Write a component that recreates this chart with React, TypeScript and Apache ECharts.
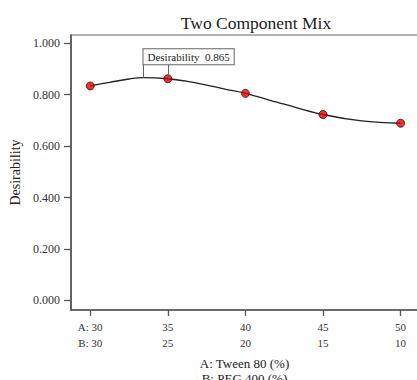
import React, { useEffect, useRef } from "react";
import * as echarts from "echarts";

const tweenValues = [30, 35, 40, 45, 50];
const pegValues = [30, 25, 20, 15, 10];
const desirabilityPoints = [0.834, 0.862, 0.805, 0.723, 0.689];
const curveX = [30, 31.25, 32.5, 33.4, 35, 36.25, 37.5, 38.75, 40, 42.5, 45, 47.5, 50];
const curveY = [0.834, 0.848, 0.861, 0.866, 0.862, 0.852, 0.837, 0.821, 0.805, 0.763, 0.723, 0.698, 0.689];
const yTicks = [0, 0.2, 0.4, 0.6, 0.8, 1.0];
const flagX = 33.4;
const flagValue = 0.865;

const FONT = "Liberation Serif";

export default function App() {
  const ref = useRef<HTMLDivElement>(null);
  useEffect(() => {
    if (!ref.current) return;
    const chart = echarts.init(ref.current, null, { renderer: "svg" });
    const flagBottom = 0.916;
    chart.setOption({
      animation: false,
      backgroundColor: "#fff",
      textStyle: { fontFamily: FONT },
      title: {
        text: "Two Component Mix",
        left: 251,
        top: 9,
        textAlign: "center",
        textStyle: { fontFamily: FONT, fontSize: 17.5, fontWeight: "normal", color: "#222" },
      },
      grid: {
        left: 71,
        top: 35,
        right: -1,
        bottom: 70,
        containLabel: false,
        outerBoundsMode: "none",
        show: true,
        borderColor: "#666",
        borderWidth: 1.2,
      },
      xAxis: {
        type: "value",
        min: 28.76,
        max: 51.12,
        name: "A: Tween 80 (%)\nB: PEG 400 (%)",
        nameLocation: "middle",
        nameGap: 44,
        nameTextStyle: { fontFamily: FONT, fontSize: 13, color: "#222", lineHeight: 15 },
        axisLine: { onZero: false, lineStyle: { color: "#555", width: 1.6 } },
        axisTick: { customValues: tweenValues, length: 6, lineStyle: { color: "#555", width: 1.3 } },
        splitLine: { show: false },
        axisLabel: {
          customValues: tweenValues,
          margin: 9,
          fontFamily: FONT,
          fontSize: 11,
          color: "#333",
          lineHeight: 16,
          formatter: (v: number) => {
            const i = tweenValues.indexOf(Math.round(v));
            if (i < 0) return "";
            return i === 0 ? `A: ${tweenValues[i]}\nB: ${pegValues[i]}` : `${tweenValues[i]}\n${pegValues[i]}`;
          },
        },
      },
      yAxis: {
        type: "value",
        min: -0.037,
        max: 1.032,
        name: "Desirability",
        nameLocation: "middle",
        nameGap: 47,
        nameTextStyle: { fontFamily: FONT, fontSize: 14, color: "#222" },
        axisLine: { show: true, onZero: false, lineStyle: { color: "#555", width: 1.6 } },
        axisTick: { show: true, customValues: yTicks, length: 7, lineStyle: { color: "#555", width: 1.3 } },
        splitLine: { show: false },
        axisLabel: {
          customValues: yTicks,
          margin: 11,
          fontFamily: FONT,
          fontSize: 12,
          color: "#333",
          formatter: (v: number) => v.toFixed(3),
        },
      },
      series: [
        {
          type: "line",
          data: curveX.map((x, i) => [x, curveY[i]]),
          smooth: 0.4,
          symbol: "none",
          lineStyle: { color: "#222", width: 1.3 },
          z: 2,
          markLine: {
            silent: true,
            symbol: "none",
            label: { show: false },
            lineStyle: { color: "#666", width: 1, type: "solid" },
            data: [
              [{ coord: [flagX, 0.866] }, { coord: [flagX, flagBottom] }],
              [{ coord: [tweenValues[1], desirabilityPoints[1]] }, { coord: [tweenValues[1], flagBottom] }],
            ],
          },
          markPoint: {
            silent: true,
            symbol: "rect",
            symbolSize: 1,
            itemStyle: { color: "rgba(0,0,0,0)" },
            label: {
              show: true,
              position: [1, -15],
              formatter: `Desirability  ${flagValue.toFixed(3)}`,
              fontFamily: FONT,
              fontSize: 11,
              color: "#222",
              backgroundColor: "#fff",
              borderColor: "#666",
              borderWidth: 1,
              padding: [2, 4, 2, 4],
              align: "left",
              verticalAlign: "top",
            },
            data: [{ coord: [flagX, flagBottom] }],
          },
        },
        {
          type: "scatter",
          data: tweenValues.map((x, i) => [x, desirabilityPoints[i]]),
          symbol: "circle",
          symbolSize: 8,
          itemStyle: { color: "#e00000", borderColor: "#5a0000", borderWidth: 1 },
          z: 3,
        },
      ],
    });
    return () => chart.dispose();
  }, []);
  return (
    <div
      ref={ref}
      style={{ position: "absolute", left: 0, top: 0, width: 417, height: 380 }}
    />
  );
}
